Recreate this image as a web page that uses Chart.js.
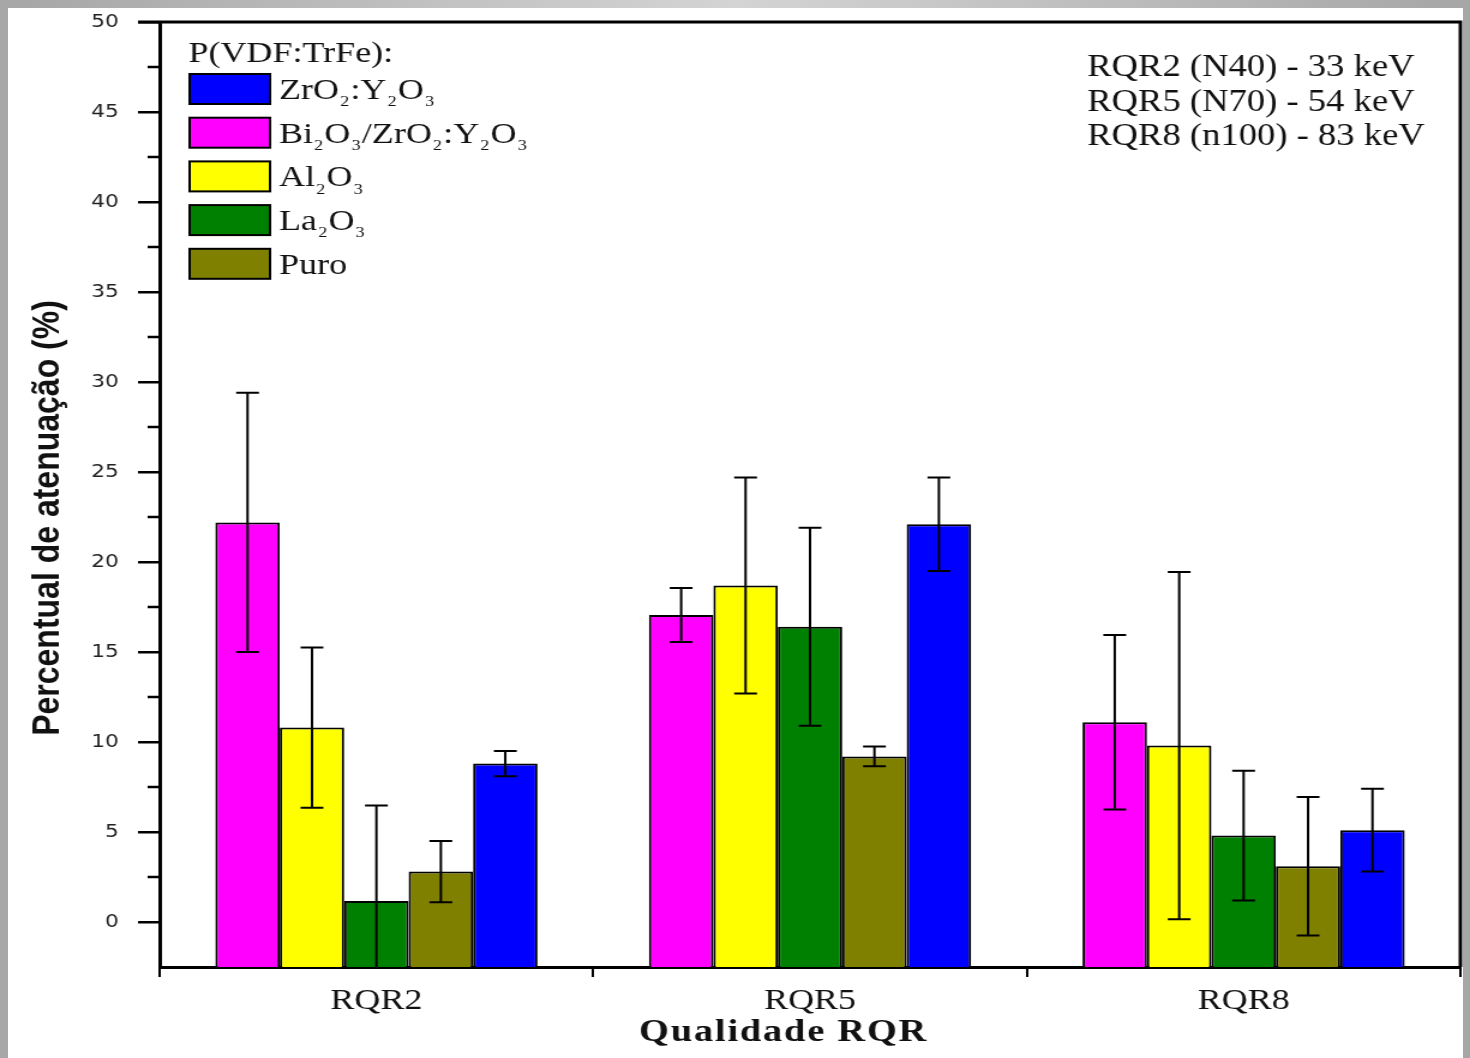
<!DOCTYPE html>
<html>
<head>
<meta charset="utf-8">
<script src="https://cdn.jsdelivr.net/npm/chart.js@4.4.1/dist/chart.umd.min.js"></script>
<style>
  html, body { margin: 0; padding: 0; }
  body { width: 1470px; height: 1058px; position: relative; overflow: hidden;
         background: linear-gradient(to right, #a6a6a6, #d4d4d4 50%, #a6a6a6); }
  #paper { position: absolute; left: 8px; top: 8px; width: 1455px; height: 1050px; background: #fff; }
  #chart { position: absolute; left: 0; top: 0; }
</style>
</head>
<body>
<div id="paper"></div>
<!-- drawn at 1225 wide and stretched to 1470, like the reference -->
<canvas id="chart" width="1225" height="1058" style="width:1470px;height:1058px"></canvas>
<script>
const categories = ['RQR2', 'RQR5', 'RQR8'];
const seriesNames = ['Bi₂O₃/ZrO₂:Y₂O₃', 'Al₂O₃', 'La₂O₃', 'Puro', 'ZrO₂:Y₂O₃'];
const seriesColors = ['#ff00ff', '#ffff00', '#008000', '#808000', '#0000ff'];
const legendOrder = [4, 0, 1, 2, 3];
const legendTitle = 'P(VDF:TrFe):';
const energyNotes = ['RQR2 (N40) - 33 keV', 'RQR5 (N70) - 54 keV', 'RQR8 (n100) - 83 keV'];
const xTitle = 'Qualidade RQR';
const yTitle = 'Percentual de atenuação (%)';

const biZrValues = [22.2, 17.05, 11.1];
const biZrErrors = [7.2, 1.5, 4.85];
const al2o3Values = [10.8, 18.7, 9.8];
const al2o3Errors = [4.45, 6.0, 9.65];
const la2o3Values = [1.17, 16.4, 4.8];
const la2o3Errors = [5.3, 5.5, 3.6];
const puroValues = [2.8, 9.2, 3.1];
const puroErrors = [1.7, 0.55, 3.85];
const zrValues = [8.8, 22.1, 5.1];
const zrErrors = [0.7, 2.6, 2.3];

const yMin = -2.5;
const yMax = 50;
const yTickValues = [0, 5, 10, 15, 20, 25, 30, 35, 40, 45, 50];
const yMinorValues = [2.5, 7.5, 12.5, 17.5, 22.5, 27.5, 32.5, 37.5, 42.5, 47.5];

const allValues = [biZrValues, al2o3Values, la2o3Values, puroValues, zrValues];
const allErrors = [biZrErrors, al2o3Errors, la2o3Errors, puroErrors, zrErrors];

Chart.defaults.font.family = '"Liberation Serif", "Times New Roman", serif';
Chart.defaults.color = '#111';

const SUBS = '₀₁₂₃₄₅₆₇₈₉';

// text with subscript digits
function drawRich(ctx, text, x, y, size) {
  let cx = x;
  for (const ch of text) {
    const k = SUBS.indexOf(ch);
    if (k >= 0) {
      ctx.font = Math.round(size * 0.5) + 'px "Liberation Serif", serif';
      ctx.fillText(String(k), cx + 1, y + size * 0.24);
      cx += ctx.measureText(String(k)).width + 2;
    } else {
      ctx.font = size + 'px "Liberation Serif", serif';
      ctx.fillText(ch, cx, y);
      cx += ctx.measureText(ch).width;
    }
  }
}

const errorBars = {
  id: 'errorBars',
  afterDatasetsDraw(chart) {
    const ctx = chart.ctx;
    const y = chart.scales.y;
    const area = chart.chartArea;
    ctx.save();
    ctx.beginPath();
    ctx.rect(area.left, area.top, area.right - area.left, area.bottom - area.top);
    ctx.clip();
    ctx.strokeStyle = '#000';
    ctx.lineWidth = 2;
    chart.data.datasets.forEach((ds, i) => {
      chart.getDatasetMeta(i).data.forEach((bar, j) => {
        const v = ds.data[j], e = ds.errors[j];
        const top = y.getPixelForValue(v + e);
        const bot = y.getPixelForValue(v - e);
        const half = 9.5;
        ctx.beginPath();
        ctx.moveTo(bar.x, top); ctx.lineTo(bar.x, bot);
        ctx.moveTo(bar.x - half, top); ctx.lineTo(bar.x + half, top);
        ctx.moveTo(bar.x - half, bot); ctx.lineTo(bar.x + half, bot);
        ctx.stroke();
      });
    });
    ctx.restore();
  }
};

const frameAndNotes = {
  id: 'frameAndNotes',
  afterDraw(chart) {
    const ctx = chart.ctx;
    const a = chart.chartArea;
    const y = chart.scales.y;
    ctx.save();
    // top and right frame
    ctx.strokeStyle = '#000';
    ctx.lineWidth = 3;
    ctx.beginPath();
    ctx.moveTo(a.left - 18, a.top);
    ctx.lineTo(a.right, a.top);
    ctx.lineTo(a.right, a.bottom);
    ctx.stroke();
    // minor y ticks
    ctx.lineWidth = 2.5;
    ctx.beginPath();
    yMinorValues.forEach(v => {
      const py = y.getPixelForValue(v);
      ctx.moveTo(a.left - 10, py);
      ctx.lineTo(a.left, py);
    });
    ctx.stroke();

    // legend
    ctx.fillStyle = '#111';
    ctx.textBaseline = 'alphabetic';
    ctx.textAlign = 'left';
    ctx.font = '30px "Liberation Serif", serif';
    ctx.fillText(legendTitle, 157, 62);
    legendOrder.forEach((i, k) => {
      const ds = chart.data.datasets[i];
      const by = 74 + k * 43.7;
      ctx.fillStyle = ds.backgroundColor;
      ctx.fillRect(158, by, 67, 30);
      ctx.lineWidth = 2;
      ctx.strokeStyle = '#000';
      ctx.strokeRect(158, by, 67, 30);
      ctx.fillStyle = '#111';
      drawRich(ctx, ds.label, 232.5, by + 25, 30);
    });

    // energy notes
    ctx.font = '30.5px "Liberation Serif", serif';
    energyNotes.forEach((t, k) => {
      ctx.fillText(t, 906, 76 + k * 34.5);
    });

    // axis titles
    ctx.textAlign = 'center';
    ctx.textBaseline = 'middle';
    ctx.font = 'bold 32px "Liberation Serif", serif';
    ctx.letterSpacing = '1.5px';
    ctx.fillText(xTitle, 653, 1033);
    ctx.letterSpacing = '0px';
    ctx.translate(40, 518);
    ctx.rotate(-Math.PI / 2);
    ctx.font = 'bold 32px "Liberation Sans", Arial, sans-serif';
    ctx.fillText(yTitle, 0, 0);
    ctx.restore();
  }
};

const datasets = seriesNames.map((name, i) => ({
  label: name,
  data: allValues[i],
  errors: allErrors[i],
  backgroundColor: seriesColors[i],
  borderColor: '#000',
  borderWidth: 2,
  base: yMin,
  categoryPercentage: 0.743,
  barPercentage: 1.0
}));

new Chart(document.getElementById('chart'), {
  type: 'bar',
  data: { labels: categories, datasets: datasets },
  options: {
    responsive: false,
    devicePixelRatio: 1,
    animation: false,
    layout: { padding: { left: 0, right: 8, top: 22, bottom: 0 } },
    plugins: { legend: { display: false }, tooltip: { enabled: false } },
    scales: {
      x: {
        afterFit: s => { s.height = 91; },
        grid: { drawOnChartArea: false, color: '#000', lineWidth: 2, tickLength: 10 },
        border: { color: '#000', width: 3 },
        ticks: { font: { size: 30 }, color: '#111', padding: 6 }
      },
      y: {
        min: yMin,
        max: yMax,
        afterBuildTicks: s => { s.ticks = yTickValues.map(v => ({ value: v })); },
        afterFit: s => { s.width = 133; s.paddingTop = 0; s.paddingBottom = 0; },
        grid: { drawOnChartArea: false, color: '#000', lineWidth: 2.5, tickLength: 18 },
        border: { color: '#000', width: 3 },
        ticks: { font: { family: '"DejaVu Sans", sans-serif', size: 18 }, color: '#222', padding: 16 }
      }
    }
  },
  plugins: [errorBars, frameAndNotes]
});
</script>
</body>
</html>
